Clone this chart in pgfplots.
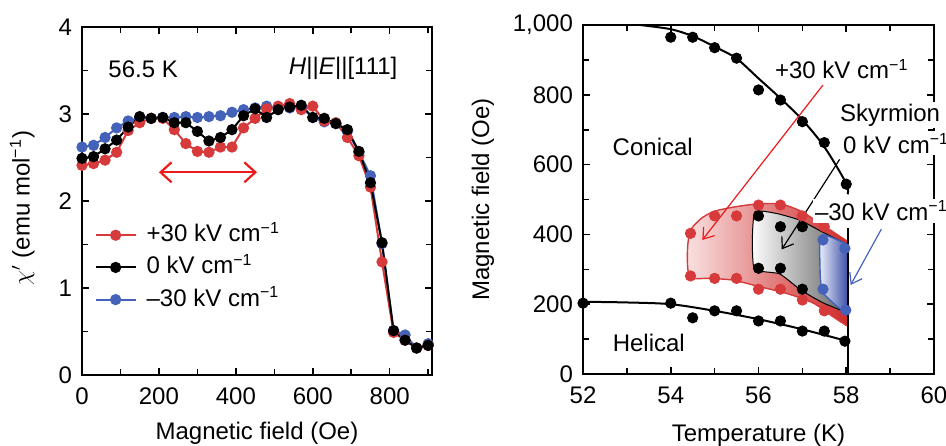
\documentclass[border=0pt]{standalone}
\usepackage{fontspec}
\setmainfont{Liberation Sans}
\usepackage{pgfplots}
\pgfplotsset{compat=1.18}
\usetikzlibrary{arrows.meta}

\definecolor{pred}{RGB}{214,58,58}
\definecolor{pblue}{RGB}{68,98,186}
\definecolor{ared}{RGB}{236,26,26}

\pgfplotsset{
  panel/.style={
    scale only axis,
    tick align=inside,
    tick pos=both,
    major tick length=3.5pt,
    minor tick length=3pt,
    axis line style={line width=1pt},
    every tick/.style={black, line width=0.8pt},
    /pgf/number format/assume math mode=true,
    xticklabel style={yshift=-3pt},
    yticklabel style={xshift=-1.5pt},
  },
}

\begin{document}
\begin{tikzpicture}[font=\fontsize{12}{14.4}\selectfont]
\path[use as bounding box] (0,0) rectangle (473pt,222.5pt);

% left panel: susceptibility vs field
\begin{axis}[panel,
  at={(41pt,35pt)}, anchor=south west,
  width=175pt, height=174pt,
  xmin=0, xmax=910, ymin=0, ymax=4,
  xtick={0,200,400,600,800}, minor xtick={100,300,500,700,900},
  ytick={0,1,2,3,4}, minor ytick={0.5,1.5,2.5,3.5},
  xlabel={Magnetic field (Oe)},
  ylabel={$\chi'$ (emu mol\textsuperscript{−1})},
  xlabel style={at={(axis description cs:0.5,-0.167)}, anchor=center},
  ylabel style={at={(axis description cs:-0.171,0.48)}, anchor=center},
  legend style={at={(rel axis cs:0.035,0.433)}, anchor=north west,
    draw=none, fill=none, inner sep=0pt, row sep=5.6pt,
    nodes={inner sep=0pt, text height=8.5pt, text depth=2pt}},
  legend cell align=left,
  legend image code/.code={\draw[mark repeat=2,mark phase=2,#1]
    plot coordinates {(0pt,0pt) (10pt,0pt) (20pt,0pt)}; \path (25pt,0pt);},
]
\addlegendimage{pred, line width=1pt, mark=*, mark size=2.3pt}
\addlegendentry{+30 kV cm\textsuperscript{−1}}
\addlegendimage{black, line width=1pt, mark=*, mark size=2.3pt}
\addlegendentry{0 kV cm\textsuperscript{−1}}
\addlegendimage{pblue, line width=1pt, mark=*, mark size=2.3pt}
\addlegendentry{–30 kV cm\textsuperscript{−1}}

\addplot[forget plot, pblue, line width=1pt, mark=*, mark size=2.3pt] coordinates {
(0,2.62) (30,2.64) (60,2.73) (90,2.84) (120,2.92) (150,2.96) (180,2.95)
(210,2.96) (240,2.96) (270,2.97) (300,2.96) (330,2.97) (360,2.98) (390,3.02)
(420,3.05) (450,3.07) (480,3.09) (510,3.07) (540,3.07) (570,3.08) (600,2.96)
(630,2.91) (660,2.89) (690,2.80) (720,2.56) (750,2.29) (780,1.51) (810,0.51)
(840,0.46) (870,0.31) (900,0.36)};
\addplot[forget plot, pred, line width=1pt, mark=*, mark size=2.3pt] coordinates {
(0,2.41) (30,2.43) (60,2.47) (90,2.56) (120,2.81) (150,2.90) (180,2.95)
(210,2.95) (240,2.82) (270,2.66) (300,2.57) (330,2.56) (360,2.62) (390,2.62)
(420,2.84) (450,2.95) (480,3.06) (510,3.09) (540,3.12) (570,3.05) (600,3.09)
(630,2.92) (660,2.90) (690,2.73) (720,2.52) (750,2.16) (780,1.30) (810,0.49)
(840,0.40) (870,0.31) (900,0.34)};
\addplot[forget plot, black, line width=1pt, mark=*, mark size=2.3pt] coordinates {
(0,2.49) (30,2.51) (60,2.60) (90,2.70) (120,2.85) (150,2.97) (180,2.95)
(210,2.96) (240,2.90) (270,2.90) (300,2.80) (330,2.69) (360,2.73) (390,2.82)
(420,2.98) (450,3.06) (480,2.96) (510,3.05) (540,3.08) (570,3.10) (600,2.96)
(630,2.95) (660,2.89) (690,2.82) (720,2.57) (750,2.21) (780,1.52) (810,0.51)
(840,0.40) (870,0.31) (900,0.34)};

\draw[ared, line width=1.1pt, {Straight Barb[length=5.5pt,width=10pt]}-{Straight Barb[length=5.5pt,width=10pt]}]
  (axis cs:200,2.33) -- (axis cs:455,2.33);
\node at (axis cs:159,3.52) {56.5 K};
\node at (axis cs:679,3.52) {\textit{H}||\textit{E}||[111]};
\end{axis}

% right panel: phase diagram
\begin{axis}[panel,
  at={(291.5pt,35.5pt)}, anchor=south west,
  width=175.5pt, height=174.5pt,
  xmin=52, xmax=60, ymin=0, ymax=1000,
  xtick={52,54,56,58,60}, minor xtick={53,55,57,59},
  ytick={0,200,400,600,800,1000}, minor ytick={100,300,500,700,900},
  /pgf/number format/1000 sep={,},
  xlabel={Temperature (K)},
  ylabel={Magnetic field (Oe)},
  xlabel style={at={(axis description cs:0.5,-0.175)}, anchor=center},
  ylabel style={at={(axis description cs:-0.285,0.5)}, anchor=center},
  clip=false,
]
% +30 kV/cm region
\addplot[draw=pred, line width=0.7pt, left color={rgb,255:red,249;green,224;blue,224},
  right color={rgb,255:red,206;green,42;blue,42}, smooth, tension=0.5] coordinates {
(58.04,379) (57.40,432) (56.94,468) (56.49,487) (55.96,487) (55.42,478) (54.97,465)
(54.67,443) (54.44,408) (54.38,346) (54.44,279) (54.89,274) (55.42,269) (56.03,250)
(56.64,231) (57.25,203) (57.70,164) (58.04,136)} -- cycle;
% 0 kV/cm region
\addplot[draw=black, line width=0.5pt, left color={rgb,255:red,252;green,252;blue,252},
  right color={rgb,255:red,96;green,96;blue,96}, smooth, tension=0.3] coordinates {
(58.04,370) (57.44,408) (56.94,441) (56.41,460) (55.92,465) (55.86,384) (55.91,300)
(56.48,287) (56.96,241) (57.47,204) (58.04,175)} -- cycle;
% -30 kV/cm region
\addplot[draw=pblue, line width=0.7pt, left color={rgb,255:red,240;green,242;blue,252},
  right color={rgb,255:red,58;green,78;blue,168}, smooth, tension=0.4] coordinates {
(58.04,370) (57.44,398) (57.40,317) (57.44,241) (57.63,212) (57.85,188) (58.04,174)} -- cycle;

% phase boundaries
\addplot[black, line width=1pt, smooth] coordinates {
(53.3,1000) (54,988) (54.5,968) (55,938) (55.5,904) (56,847) (56.5,790) (57,728)
(57.5,651) (58,546) (58.03,515)};
\addplot[black, line width=1pt, smooth] coordinates {
(52,207) (53,205) (54,200) (55,181) (56,157) (57,128) (58,95)};
\addplot[black, line width=1pt] coordinates {(58.05,0) (58.05,418)};

% measured points
\addplot[only marks, pred, mark=*, mark size=2.6pt] coordinates {
(54.45,403) (55,453) (55.5,453) (56,484) (56.5,484) (57,453) (57.5,422)
(54.45,281) (55,274) (55.5,274) (56,243) (56.5,243) (57,212) (57.5,181)};
\addplot[only marks, black, mark=*, mark size=2.6pt] coordinates {
(56,453) (56.5,422) (57,422) (56,303) (56.5,303) (57,243)};
\addplot[only marks, pblue, mark=*, mark size=2.6pt] coordinates {
(57.47,384) (57.97,360) (57.47,243) (57.99,183)};
\addplot[only marks, black, mark=*, mark size=2.6pt] coordinates {
(54,965) (54.5,965) (55,935) (55.5,905) (56,814) (56.5,785) (57,723) (57.5,663) (58,544)};
\addplot[only marks, black, mark=*, mark size=2.6pt] coordinates {
(52,203) (54,203) (54.5,161) (55,181) (55.5,181) (56,152) (56.5,152) (57,123) (57.5,123) (57.97,94)};

% arrows and labels
\draw[ared, line width=0.6pt, -{Straight Barb[length=5pt,width=7pt]}]
  (axis cs:57.47,828) -- (axis cs:54.72,384);
\draw[black, line width=0.6pt, -{Straight Barb[length=5pt,width=7pt]}]
  (axis cs:57.85,615) -- (axis cs:56.53,357);
\draw[pblue, line width=0.6pt, -{Straight Barb[length=5pt,width=7pt]}]
  (axis cs:58.80,415) -- (axis cs:58.10,255);

\node at (axis cs:53.59,651) {Conical};
\node at (axis cs:53.50,88) {Helical};
\node[anchor=west, inner sep=0pt] at (axis cs:56.37,874) {+30 kV cm\textsuperscript{−1}};
\coordinate (sky) at (axis cs:57.85,742);
\coordinate (zero) at (axis cs:57.92,661);
\coordinate (minus) at (axis cs:57.28,468);
\end{axis}
\node[anchor=west, inner sep=1pt, fill=white] at ([xshift=-1pt]sky) {Skyrmion};
\node[anchor=west, inner sep=1pt, fill=white] at ([xshift=-1pt]zero) {0 kV cm\textsuperscript{−1}};
\node[anchor=west, inner sep=1pt, fill=white] at ([xshift=-1pt]minus) {–30 kV cm\textsuperscript{−1}};
\end{tikzpicture}
\end{document}
